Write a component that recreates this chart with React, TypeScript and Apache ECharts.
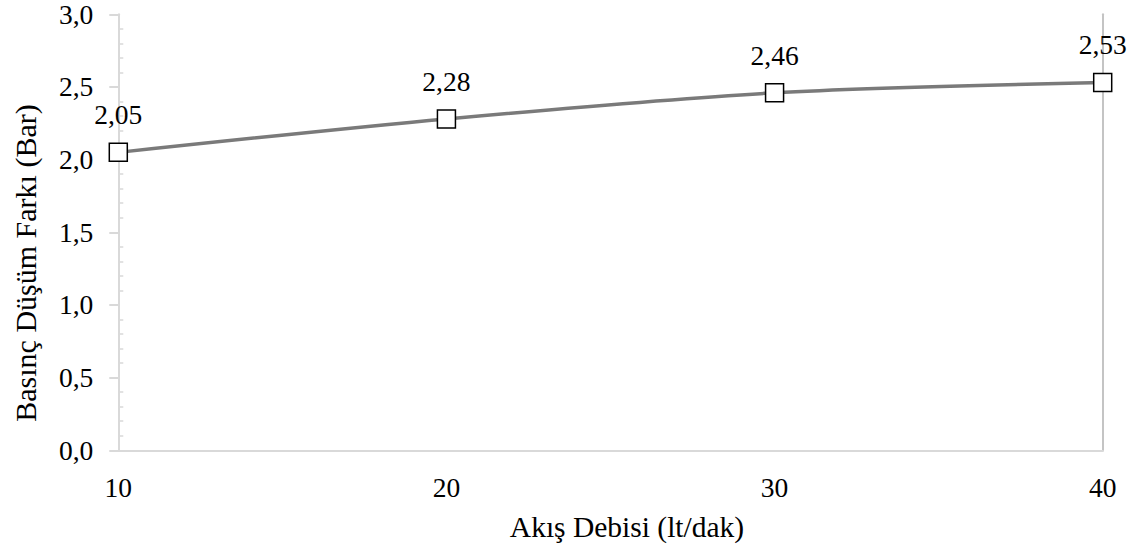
import React, { useEffect, useRef } from "react";
import * as echarts from "echarts";

const flowRates = [10, 20, 30, 40];
const pressureDrops = [2.05, 2.28, 2.46, 2.53];
const xTitle = "Akış Debisi (lt/dak)";
const yTitle = "Basınç Düşüm Farkı (Bar)";

const FONT = "Liberation Serif";
const AXIS_COLOR = "#d9d9d9";

export default function App() {
  const ref = useRef<HTMLDivElement>(null);
  useEffect(() => {
    if (!ref.current) return;
    const chart = echarts.init(ref.current, undefined, { renderer: "svg" });
    const data = flowRates.map((x, i) => [x, pressureDrops[i]]);
    chart.setOption({
      animation: false,
      backgroundColor: "#ffffff",
      textStyle: { fontFamily: FONT },
      grid: { left: 118.3, right: 35.3, top: 14.3, bottom: 97.7, containLabel: false },
      graphic: [
        {
          type: "text",
          x: 627,
          y: 527,
          style: {
            text: xTitle,
            fontFamily: FONT,
            fontSize: 29.5,
            fill: "#000",
            textAlign: "center",
            textVerticalAlign: "middle",
          },
        },
        {
          type: "text",
          x: 25,
          y: 263,
          rotation: Math.PI / 2,
          style: {
            text: yTitle,
            fontFamily: FONT,
            fontSize: 30,
            fill: "#000",
            textAlign: "center",
            textVerticalAlign: "middle",
          },
        },
      ],
      xAxis: [
        {
          type: "value",
          min: 10,
          max: 40,
          interval: 10,
          position: "bottom",
          axisLine: { show: true, lineStyle: { color: AXIS_COLOR, width: 2 } },
          axisTick: { show: false },
          splitLine: { show: false },
          axisLabel: {
            margin: 23,
            fontFamily: FONT,
            fontSize: 27.5,
            color: "#000",
            formatter: (v: number) => String(v),
          },
        },
        {
          type: "value",
          min: 10,
          max: 40,
          interval: 10,
          position: "top",
          axisLine: { show: true, lineStyle: { color: AXIS_COLOR, width: 2 } },
          axisTick: { show: false },
          axisLabel: { show: false },
          splitLine: { show: false },
        },
      ],
      yAxis: [
        {
          type: "value",
          min: 0,
          max: 3,
          interval: 0.5,
          position: "left",
          axisLine: { show: true, lineStyle: { color: AXIS_COLOR, width: 2 } },
          axisTick: { show: true, length: 9, inside: false, lineStyle: { color: AXIS_COLOR, width: 2 } },
          splitLine: { show: false },
          axisLabel: {
            margin: 25,
            fontFamily: FONT,
            fontSize: 27.5,
            color: "#000",
            formatter: (v: number) => v.toFixed(1).replace(".", ","),
          },
        },
        {
          type: "value",
          min: 0,
          max: 3,
          interval: 0.5,
          position: "left",
          offset: 0,
          axisLine: { show: false },
          axisTick: { show: false, inside: true },
          minorTick: { show: true, splitNumber: 5, length: 5, lineStyle: { color: AXIS_COLOR, width: 1.5 } },
          axisLabel: { show: false },
          splitLine: { show: false },
        },
        {
          type: "value",
          min: 0,
          max: 3,
          interval: 0.5,
          position: "right",
          axisLine: { show: true, lineStyle: { color: "#c4c4c4", width: 2 } },
          axisTick: { show: false },
          axisLabel: { show: false },
          splitLine: { show: false },
        },
      ],
      series: [
        {
          type: "line",
          xAxisIndex: 0,
          yAxisIndex: 0,
          data,
          smooth: 0.3,
          clip: false,
          symbol: "rect",
          symbolSize: 18,
          showAllSymbol: true,
          lineStyle: { color: "#7a7a7a", width: 3.5 },
          itemStyle: { color: "#ffffff", borderColor: "#000000", borderWidth: 1.5 },
          label: {
            show: true,
            position: "top",
            distance: 14,
            fontFamily: FONT,
            fontSize: 27.5,
            color: "#000",
            formatter: (p: any) => (p.value[1] as number).toFixed(2).replace(".", ","),
          },
          z: 5,
        },
      ],
    });
    return () => chart.dispose();
  }, []);
  return (
    <div
      ref={ref}
      style={{ position: "fixed", left: 0, top: 0, width: 1138, height: 548, background: "#fff" }}
    />
  );
}
